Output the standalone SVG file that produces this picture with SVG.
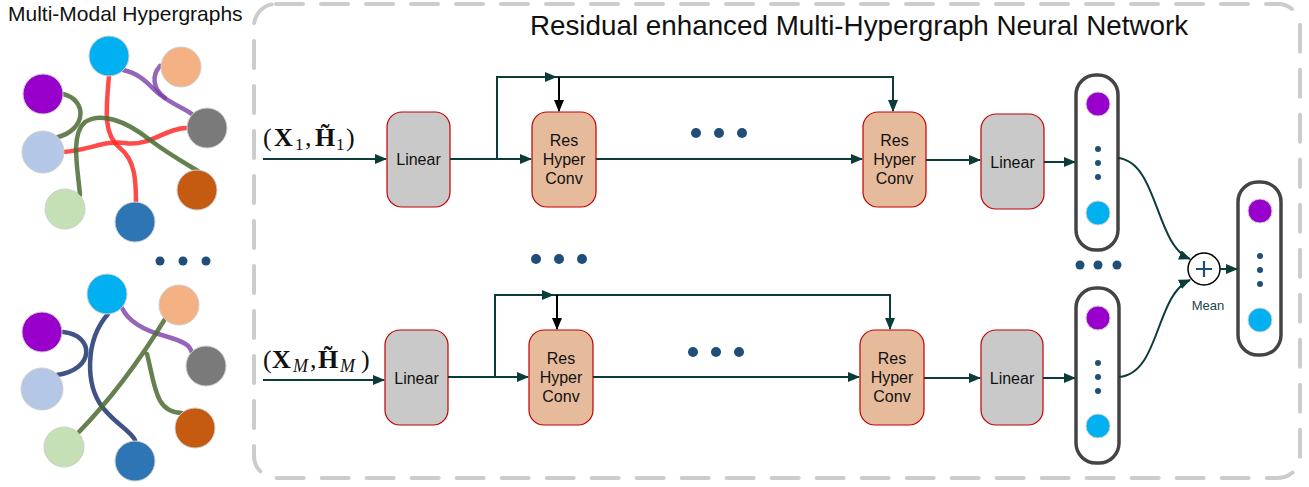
<svg xmlns="http://www.w3.org/2000/svg" width="1309" height="487" viewBox="0 0 1309 487">
<style>
.sans{font-family:"Liberation Sans",Arial,sans-serif;fill:#111}
.math{font-family:"Liberation Serif","DejaVu Serif",serif;fill:#111}
.lin{fill:#c9c9c9;stroke:#c00000;stroke-width:1.2}
.res{fill:#e6bb9b;stroke:#c00000;stroke-width:1.2}
.conn{fill:none;stroke:#0c3c3a;stroke-width:2}
.blk{fill:none;stroke:#000;stroke-width:2}
.pill{fill:#fff;stroke:#444;stroke-width:3.5}
.nd{stroke:#cfcfcf;stroke-width:1}
.he{fill:none;stroke-width:4.5;stroke-linecap:round}
.red{stroke:#ff2a2a;stroke-opacity:.85}
.pur{stroke:#7a3fa6;stroke-opacity:.8}
.grn{stroke:#4b6b33;stroke-opacity:.85}
.nav{stroke:#1d3570;stroke-opacity:.85}
.dot{fill:#1f4e79}
</style>
<defs>
<marker id="ah" markerWidth="12" markerHeight="10" refX="11" refY="5" orient="auto" markerUnits="userSpaceOnUse"><path d="M0,0 L12,5 L0,10 z" fill="#0c3c3a"/></marker>
<marker id="ahb" markerWidth="12" markerHeight="10" refX="11" refY="5" orient="auto" markerUnits="userSpaceOnUse"><path d="M0,0 L12,5 L0,10 z" fill="#000"/></marker>
</defs>
<rect width="1309" height="487" fill="#fff"/>

<!-- frame -->
<rect id="frame" x="254" y="4" width="1046" height="474" rx="22" fill="none" stroke="#cccccc" stroke-width="4" stroke-dasharray="27 18" stroke-linecap="round"/>
<text class="sans" x="859" y="35" font-size="27.8" text-anchor="middle">Residual enhanced Multi-Hypergraph Neural Network</text>
<text class="sans" x="8" y="21" font-size="21">Multi-Modal Hypergraphs</text>

<!-- hypergraph 1 -->
<g id="hypergraph1">
<g id="hyperedges1">
<path class="he red" d="M109,76 C106,110 103,135 120,148 C135,160 136,180 136,203"/>
<path class="he red" d="M63,152 C90,150 105,140 125,143 C150,147 165,128 187,128"/>
<path class="he pur" d="M123,70 C145,75 150,88 162,96 C175,106 185,108 193,115"/>
<path class="he pur" d="M160,66 C152,75 152,88 165,98"/>
<path class="he grn" d="M63,94 C88,100 86,130 58,137"/>
<path class="he grn" d="M80,195 C78,170 70,135 85,122 C100,112 125,120 150,140 C170,155 185,163 198,171"/>
</g>
<circle id="n1_cyan" class="nd" cx="109" cy="56" r="20" fill="#00b0f0"/>
<circle id="n1_peach" class="nd" cx="181" cy="67" r="20" fill="#f4b183"/>
<circle id="n1_purple" class="nd" cx="43" cy="94" r="20" fill="#9900cc"/>
<circle id="n1_gray" class="nd" cx="207" cy="128" r="20" fill="#7a7a7a"/>
<circle id="n1_lblue" class="nd" cx="43" cy="152" r="21" fill="#b4c7e7"/>
<circle id="n1_orange" class="nd" cx="197" cy="190" r="20" fill="#c55a11"/>
<circle id="n1_lgreen" class="nd" cx="65" cy="209" r="20" fill="#c5e0b4"/>
<circle id="n1_dblue" class="nd" cx="135" cy="222" r="20" fill="#2e75b6"/>
</g>

<g id="dots_graphs">
<circle class="dot" cx="160" cy="261" r="4.5"/><circle class="dot" cx="183" cy="261" r="4.5"/><circle class="dot" cx="206" cy="261" r="4.5"/>
</g>

<!-- hypergraph M -->
<g id="hypergraphM">
<g id="hyperedgesM">
<path class="he nav" d="M63,332 C95,335 95,370 57,375"/>
<path class="he nav" d="M108,314 C85,340 85,385 103,408 C118,426 130,430 135,440"/>
<path class="he pur" d="M122,308 C130,325 150,332 165,336 C185,342 190,345 192,353"/>
<path class="he grn" d="M165,319 C140,360 110,400 78,433"/>
<path class="he grn" d="M147,354 C155,385 155,413 182,413"/>
</g>
<circle id="nM_cyan" class="nd" cx="107" cy="294" r="20" fill="#00b0f0"/>
<circle id="nM_peach" class="nd" cx="179" cy="305" r="20" fill="#f4b183"/>
<circle id="nM_purple" class="nd" cx="42" cy="332" r="20" fill="#9900cc"/>
<circle id="nM_gray" class="nd" cx="206" cy="366" r="20" fill="#7a7a7a"/>
<circle id="nM_lblue" class="nd" cx="42" cy="389" r="21" fill="#b4c7e7"/>
<circle id="nM_orange" class="nd" cx="195" cy="428" r="20" fill="#c55a11"/>
<circle id="nM_lgreen" class="nd" cx="64" cy="447" r="20" fill="#c5e0b4"/>
<circle id="nM_dblue" class="nd" cx="135" cy="461" r="20" fill="#2e75b6"/>
</g>

<!-- input labels -->
<g id="label1">
<text class="math" font-size="26" y="146"><tspan x="263">(</tspan><tspan x="274" font-weight="bold">X</tspan><tspan x="295" font-size="17" dy="4">1</tspan><tspan x="305" dy="-4">,</tspan><tspan x="315" font-weight="bold">H̃</tspan><tspan x="336" font-size="17" dy="4">1</tspan><tspan x="346" dy="-4">)</tspan></text>
</g>
<g id="labelM">
<text class="math" font-size="26" y="368"><tspan x="263">(</tspan><tspan x="272" font-weight="bold">X</tspan><tspan x="293" font-size="18" font-style="italic" dy="4">M</tspan><tspan x="310" dy="-4">,</tspan><tspan x="318" font-weight="bold">H̃</tspan><tspan x="340" font-size="18" font-style="italic" dy="4">M</tspan><tspan x="361" dy="-4">)</tspan></text>
</g>

<!-- top row nodes -->
<g id="linear1"><rect class="lin" x="387" y="112" width="63" height="95" rx="15"/><text class="sans" x="418.5" y="165" font-size="16" text-anchor="middle">Linear</text></g>
<g id="res1"><rect class="res" x="532" y="112" width="64" height="95" rx="15"/><text class="sans" font-size="16" text-anchor="middle"><tspan x="564" y="146">Res</tspan><tspan x="564" y="165">Hyper</tspan><tspan x="564" y="184">Conv</tspan></text></g>
<g id="dots_top"><circle class="dot" cx="696" cy="133" r="5"/><circle class="dot" cx="719" cy="133" r="5"/><circle class="dot" cx="742" cy="133" r="5"/></g>
<g id="res2"><rect class="res" x="863" y="112" width="63" height="95" rx="15"/><text class="sans" font-size="16" text-anchor="middle"><tspan x="894.5" y="146">Res</tspan><tspan x="894.5" y="165">Hyper</tspan><tspan x="894.5" y="184">Conv</tspan></text></g>
<g id="linear2"><rect class="lin" x="981" y="114" width="63" height="95" rx="15"/><text class="sans" x="1012.5" y="168" font-size="16" text-anchor="middle">Linear</text></g>
<g id="emb1"><rect class="pill" x="1076" y="75" width="42" height="175" rx="20"/><circle cx="1098" cy="104" r="12" fill="#9900cc" class="nd"/><circle class="dot" cx="1098" cy="149" r="3"/><circle class="dot" cx="1098" cy="163" r="3"/><circle class="dot" cx="1098" cy="177" r="3"/><circle cx="1098" cy="213" r="12" fill="#00b0f0" class="nd"/></g>

<g id="dots_mid"><circle class="dot" cx="536" cy="259" r="5"/><circle class="dot" cx="559" cy="259" r="5"/><circle class="dot" cx="582" cy="259" r="5"/></g>
<g id="dots_emb"><circle class="dot" cx="1080" cy="265" r="4.5"/><circle class="dot" cx="1098" cy="265" r="4.5"/><circle class="dot" cx="1117" cy="265" r="4.5"/></g>

<!-- bottom row nodes -->
<g id="linear3"><rect class="lin" x="385" y="330" width="63" height="95" rx="15"/><text class="sans" x="416.5" y="384" font-size="16" text-anchor="middle">Linear</text></g>
<g id="res3"><rect class="res" x="529" y="330" width="64" height="95" rx="15"/><text class="sans" font-size="16" text-anchor="middle"><tspan x="561" y="364">Res</tspan><tspan x="561" y="383">Hyper</tspan><tspan x="561" y="402">Conv</tspan></text></g>
<g id="dots_bot"><circle class="dot" cx="693" cy="352" r="5"/><circle class="dot" cx="716" cy="352" r="5"/><circle class="dot" cx="739" cy="352" r="5"/></g>
<g id="res4"><rect class="res" x="860" y="330" width="64" height="95" rx="15"/><text class="sans" font-size="16" text-anchor="middle"><tspan x="892" y="364">Res</tspan><tspan x="892" y="383">Hyper</tspan><tspan x="892" y="402">Conv</tspan></text></g>
<g id="linear4"><rect class="lin" x="981" y="330" width="62" height="95" rx="15"/><text class="sans" x="1012" y="384" font-size="16" text-anchor="middle">Linear</text></g>
<g id="embM"><rect class="pill" x="1076" y="288" width="43" height="175" rx="20"/><circle cx="1098" cy="318" r="12" fill="#9900cc" class="nd"/><circle class="dot" cx="1098" cy="363" r="3"/><circle class="dot" cx="1098" cy="377" r="3"/><circle class="dot" cx="1098" cy="391" r="3"/><circle cx="1098" cy="426" r="12" fill="#00b0f0" class="nd"/></g>

<!-- mean -->
<g id="mean"><circle cx="1204" cy="269" r="16" fill="#fff" stroke="#000" stroke-width="1.5"/><path d="M1196,269 H1212 M1204,261 V277" stroke="#1f4e79" stroke-width="2.2"/><text x="1208" y="310" font-size="13" text-anchor="middle" style="font-family:'Liberation Sans',Arial,sans-serif;fill:#1a4747">Mean</text></g>
<g id="output"><rect class="pill" x="1238" y="182" width="43" height="173" rx="20"/><circle cx="1260" cy="211" r="12" fill="#9900cc" class="nd"/><circle class="dot" cx="1260" cy="256" r="3"/><circle class="dot" cx="1260" cy="270" r="3"/><circle class="dot" cx="1260" cy="284" r="3"/><circle cx="1260" cy="320" r="12" fill="#00b0f0" class="nd"/></g>

<!-- connectors -->
<g id="connectors">
<path class="conn" d="M263,159 H386" marker-end="url(#ah)"/>
<path class="conn" d="M450,159 H531" marker-end="url(#ah)"/>
<path class="conn" d="M497,159 V77 H556" marker-end="url(#ah)"/>
<path class="conn" d="M556,77 H893 V111" marker-end="url(#ah)"/>
<path class="blk" d="M559,77 V111" marker-end="url(#ahb)"/>
<path class="conn" d="M596,159 H862" marker-end="url(#ah)"/>
<path class="conn" d="M926,160 H980" marker-end="url(#ah)"/>
<path class="conn" d="M1044,162 H1075" marker-end="url(#ah)"/>

<path class="conn" d="M263,380 H384" marker-end="url(#ah)"/>
<path class="conn" d="M448,377 H528" marker-end="url(#ah)"/>
<path class="conn" d="M495,377 V295 H553" marker-end="url(#ah)"/>
<path class="conn" d="M553,295 H890 V329" marker-end="url(#ah)"/>
<path class="blk" d="M557,295 V329" marker-end="url(#ahb)"/>
<path class="conn" d="M593,377 H859" marker-end="url(#ah)"/>
<path class="conn" d="M924,378 H980" marker-end="url(#ah)"/>
<path class="conn" d="M1043,378 H1075" marker-end="url(#ah)"/>

<path class="conn" d="M1118,158 C1158,162 1155,245 1190,259" marker-end="url(#ah)"/>
<path class="conn" d="M1119,377 C1160,374 1155,295 1190,280" marker-end="url(#ah)"/>
<path class="conn" d="M1220,269 H1237" marker-end="url(#ah)"/>
</g>
</svg>
